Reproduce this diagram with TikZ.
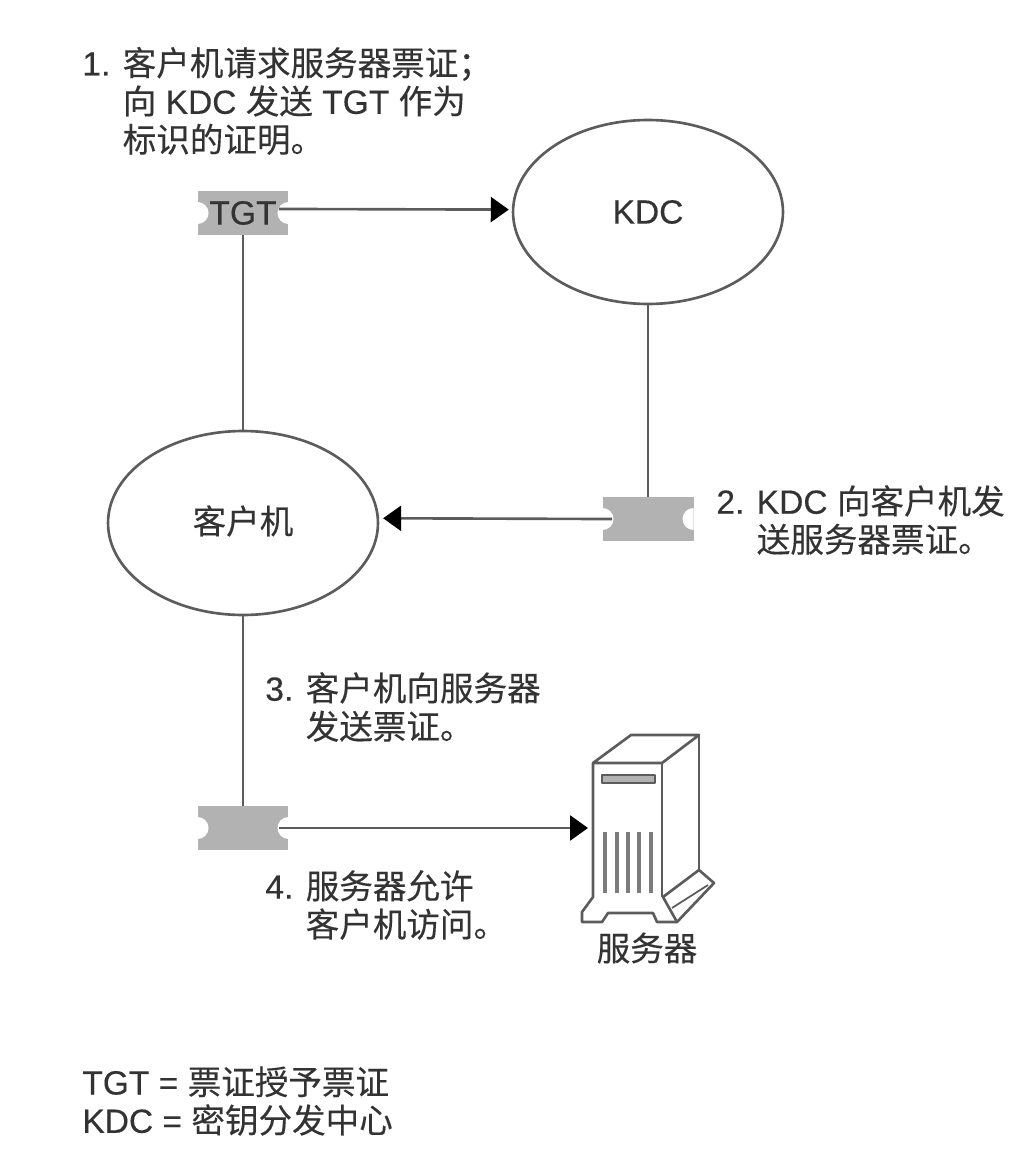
\documentclass[tikz,border=0pt]{standalone}
\usepackage{fontspec}
\usetikzlibrary{arrows.meta,shapes.geometric}
\setmainfont{Liberation Sans}[FakeBold=0.25]
\newfontfamily\cjk{Noto Sans CJK SC}[FakeBold=0.25]
\newcommand{\zh}[1]{{\cjk #1}}

\definecolor{linegray}{gray}{0.36}
\definecolor{ticketgray}{gray}{0.70}
\definecolor{textgray}{gray}{0.2}

\tikzset{
    note/.style={anchor=west, align=left, inner sep=0pt, text=textgray, font=\fontsize{19.1}{21.8}\selectfont},
    label/.style={text=textgray, font=\fontsize{19.1}{21.8}\selectfont},
    party/.style={ellipse, draw=linegray, line width=1.5pt, minimum width=5.4cm, minimum height=3.68cm, inner sep=0pt},
    ticket/.style={rectangle, fill=ticketgray, minimum width=1.82cm, minimum height=0.88cm, inner sep=0pt,
        path picture={\fill[white] (path picture bounding box.west) circle (0.22cm)
            (path picture bounding box.east) circle (0.22cm);}},
    wire/.style={draw=linegray, line width=1.5pt},
    flow/.style={wire, ->, shorten <=-0.2cm},
    case/.style={draw=linegray, line width=1.5pt, line join=round}
}

\begin{document}
\begin{tikzpicture}[x=0.02cm, y=-0.02cm, >={Triangle[length=0.36cm,width=0.5cm,color=black]}]

    \useasboundingbox (0,0) rectangle (1014,1158);

    % parties and tickets
    \node[party] (kdc) at (648,212) {};
    \node[label] (kdctext) at (648,212) {KDC};
    \node[party] (client) at (243,523) {};
    \node[label] (clienttext) at (243,521) {\zh{客户机}};

    \node[ticket, label] (tgt) at (243,213) {TGT};
    \node[ticket] (ticketkdc) at (648,519) {};
    \node[ticket] (ticketsrv) at (243,828) {};

    % server box
    \coordinate (srvin) at (588,828);
    \draw[case] (593,763) -- (631,735) -- (699,735) -- (662,763) -- cycle;
    \draw[case] (699,735) -- (699,870);
    \draw[case] (662,763) -- (662,897);
    \draw[case] (593,763) -- (593,897) -- (582,912) -- (582,922) -- (602,922) -- (608,913)
        -- (653,913) -- (657,922) -- (677,922);
    \draw[case] (663,897) -- (699,870) -- (714,883) -- (677,922) -- cycle;
    \draw[case, line width=1pt] (672,908) -- (708,885);
    \draw[case, fill=ticketgray] (602,775) rectangle (655,783);
    \foreach \x in {605,617,628,639,651} {
        \draw[draw=linegray!80, line width=2pt] (\x,832) -- (\x,893);
    }
    \node[label] (srvtext) at (647,948) {\zh{服务器}};

    % connectors
    \draw[flow, shorten >=0.06cm] (tgt.5) -- (kdc.179);
    \draw[wire] (tgt.south) -- (client.north);
    \draw[wire] (kdc.south) -- (ticketkdc.north);
    \draw[flow, shorten >=0.08cm] (ticketkdc.west) -- (client.2);
    \draw[wire] (client.south) -- (ticketsrv.north);
    \draw[flow] (ticketsrv.east) -- (srvin);

    % steps
    \node[note] (stepone) at (82,101) {1. \zh{客户机请求服务器票证；}\\
        \phantom{1. }\zh{向} KDC \zh{发送} TGT \zh{作为}\\
        \phantom{1. }\zh{标识的证明。}};
    \node[note] (steptwo) at (716,520) {2. KDC \zh{向客户机发}\\
        \phantom{2. }\zh{送服务器票证。}};
    \node[note] (stepthree) at (265,707) {3. \zh{客户机向服务器}\\
        \phantom{3. }\zh{发送票证。}};
    \node[note] (stepfour) at (265,905) {4. \zh{服务器允许}\\
        \phantom{4. }\zh{客户机访问。}};
    \node[note] (legend) at (82,1101) {TGT = \zh{票证授予票证}\\
        KDC = \zh{密钥分发中心}};

\end{tikzpicture}
\end{document}
